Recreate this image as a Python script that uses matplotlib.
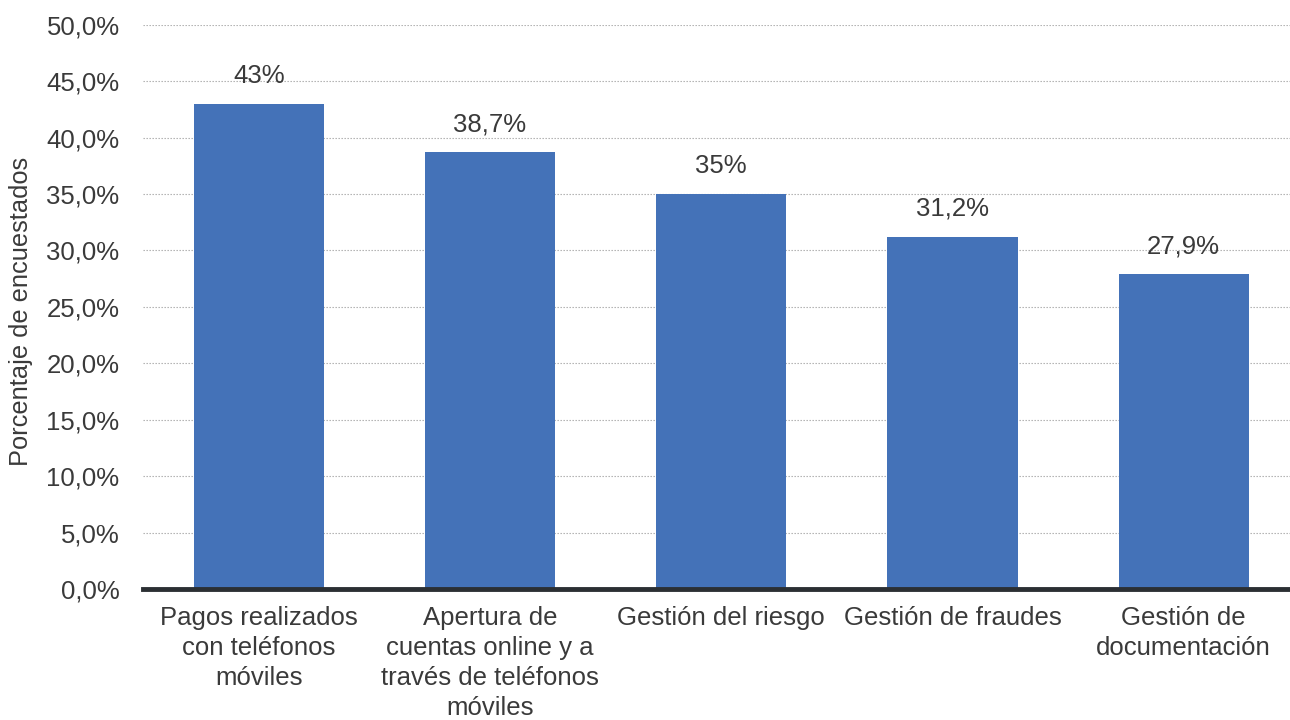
import numpy as np
import matplotlib.pyplot as plt
from matplotlib.ticker import FuncFormatter

categorias = [
    "Pagos realizados\ncon teléfonos\nmóviles",
    "Apertura de\ncuentas online y a\ntravés de teléfonos\nmóviles",
    "Gestión del riesgo",
    "Gestión de fraudes",
    "Gestión de\ndocumentación",
]
valores = [43.0, 38.7, 35.0, 31.2, 27.9]
etiquetas = ["43%", "38,7%", "35%", "31,2%", "27,9%"]
ticks_y = [0, 5, 10, 15, 20, 25, 30, 35, 40, 45, 50]

azul = "#4472b8"
gris_texto = "#3a3a3a"

plt.rcParams['font.family'] = ['Liberation Sans', 'DejaVu Sans']

fig = plt.figure(figsize=(12.9, 7.2), dpi=100)
ax = fig.add_axes([0.111, 0.182, 0.889, 0.7835])

x = np.arange(len(categorias))
ax.bar(x, valores, width=0.563, color=azul, zorder=3)

for xi, v, txt in zip(x, valores, etiquetas):
    ax.annotate(txt, (xi, v), xytext=(0, 11.5), textcoords="offset points",
                ha="center", va="bottom", fontsize=18.5, color=gris_texto)

ax.set_xlim(-0.5, 4.46)
ax.set_ylim(0, 50)
ax.set_yticks(ticks_y)
ax.yaxis.set_major_formatter(FuncFormatter(lambda v, p: f"{v:.1f}%".replace(".", ",")))
ax.set_xticks(x)
ax.set_xticklabels(categorias, fontsize=18.5, color=gris_texto, linespacing=1.33)

ax.tick_params(axis="y", length=0, pad=17, labelsize=18.5, labelcolor=gris_texto)
ax.tick_params(axis="x", length=0, pad=12)

ax.grid(axis="y", color="#a8a8a8", linestyle=(0, (1.2, 1.5)), linewidth=0.8, zorder=0)
for s in ["top", "right", "left"]:
    ax.spines[s].set_visible(False)
ax.spines["bottom"].set_color("#2b2f33")
ax.spines["bottom"].set_linewidth(3.5)
ax.spines["bottom"].set_zorder(4)

fig.text(0.016, 0.567, "Porcentaje de encuestados", rotation=90, ha="center", va="center",
         fontsize=18.3, color=gris_texto)

fig.savefig("out.png", dpi=100, facecolor="white")
